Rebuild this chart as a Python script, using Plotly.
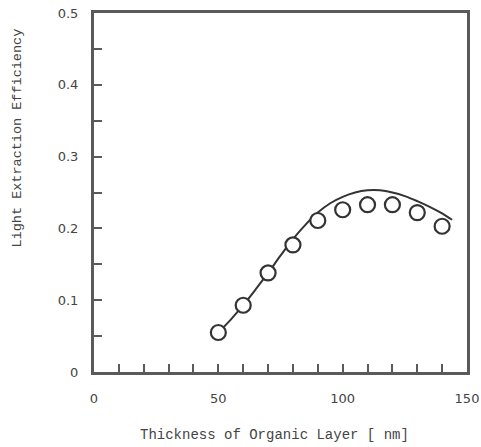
import plotly.graph_objects as go

# Measured points (open circles)
thickness_pts = [50, 60, 70, 80, 90, 100, 110, 120, 130, 140]
efficiency_pts = [0.055, 0.093, 0.138, 0.177, 0.211, 0.226, 0.233, 0.233, 0.222, 0.203]

# Calculated curve
thickness_curve = [50, 55, 60, 65, 70, 75, 80, 85, 90, 95, 100, 105, 110, 115, 120, 125, 130, 135, 140, 144]
efficiency_curve = [0.055, 0.073, 0.093, 0.115, 0.138, 0.162, 0.185, 0.205, 0.222, 0.235,
                    0.244, 0.250, 0.253, 0.253, 0.250, 0.245, 0.238, 0.230, 0.221, 0.212]

x_tickvals = [0, 10, 20, 30, 40, 50, 60, 70, 80, 90, 100, 110, 120, 130, 140, 150]
x_ticktext = ["0", "", "", "", "", "50", "", "", "", "", "100", "", "", "", "", "150"]
y_tickvals = [0, 0.05, 0.1, 0.15, 0.2, 0.25, 0.3, 0.35, 0.4, 0.45, 0.5]
y_ticktext = ["0", "", "0.1", "", "0.2", "", "0.3", "", "0.4", "", "0.5"]

x_title = "Thickness of Organic Layer [ nm]"
y_title = "Light Extraction Efficiency"

INK = "#333333"
FRAME = "#5a5a5a"
TITLE_FONT = dict(family="Liberation Mono", size=14, color="#444444")
TICK_FONT = dict(family="DejaVu Sans", size=13, color="#444444")

fig = go.Figure()
fig.add_trace(go.Scatter(
    x=thickness_curve, y=efficiency_curve, mode="lines",
    line=dict(color=INK, width=2, shape="spline", smoothing=1.0),
    showlegend=False, hoverinfo="skip"))
fig.add_trace(go.Scatter(
    x=thickness_pts, y=efficiency_pts, mode="markers",
    marker=dict(symbol="circle", size=15, color="white",
                line=dict(color=INK, width=2.2)),
    showlegend=False))

fig.update_layout(
    width=481, height=447,
    margin=dict(l=94, r=14, t=13, b=75),
    paper_bgcolor="white", plot_bgcolor="white",
    xaxis=dict(range=[0, 150], tickvals=x_tickvals, ticktext=x_ticktext,
               ticks="inside", ticklen=8, tickwidth=2, tickcolor=FRAME,
               showgrid=False, zeroline=False, automargin=False,
               showline=True, linecolor=FRAME, linewidth=3, mirror=True,
               tickfont=TICK_FONT, ticklabelstandoff=12),
    yaxis=dict(range=[0, 0.5], tickvals=y_tickvals, ticktext=y_ticktext,
               ticks="inside", ticklen=8, tickwidth=2, tickcolor=FRAME,
               showgrid=False, zeroline=False, automargin=False,
               showline=True, linecolor=FRAME, linewidth=3, mirror=True,
               tickfont=TICK_FONT, ticklabelstandoff=10),
    annotations=[
        dict(text=x_title, xref="paper", yref="paper", x=0.485, y=-0.175,
             xanchor="center", yanchor="middle", showarrow=False, font=TITLE_FONT),
        dict(text=y_title, xref="paper", yref="paper", x=-0.204, y=0.653,
             xanchor="center", yanchor="middle", showarrow=False, textangle=-90,
             font=dict(family="Liberation Mono", size=13.5, color="#444444")),
    ],
)

fig.write_html("out.html",
               config={"displayModeBar": False},
               post_script="document.body.style.margin='0px';document.body.style.overflow='hidden';")
